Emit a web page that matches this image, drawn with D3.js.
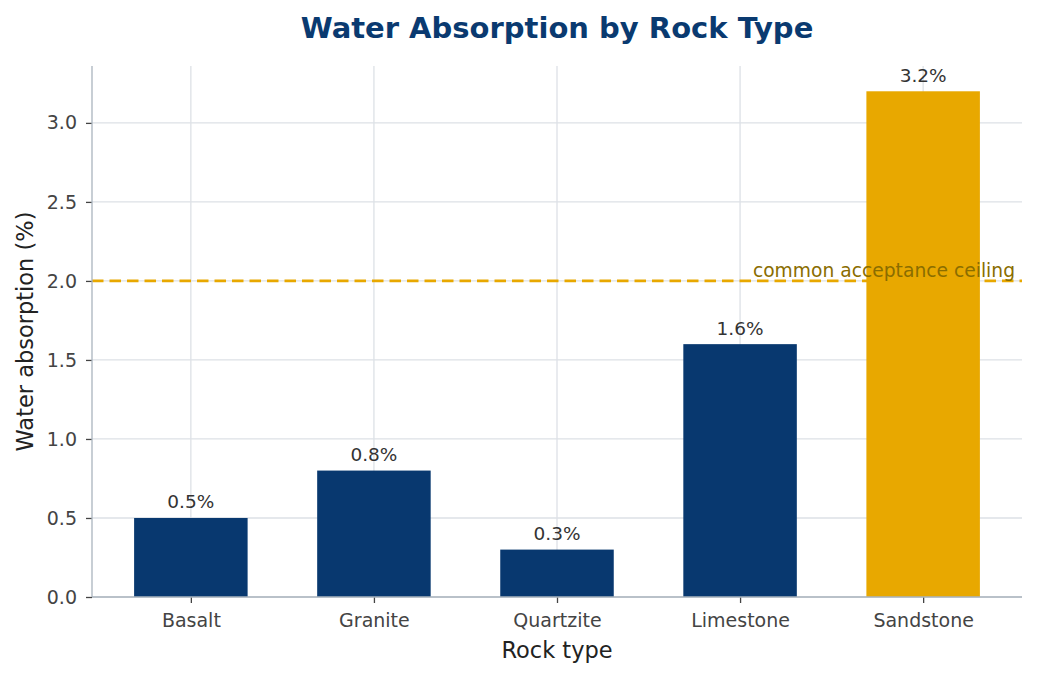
<!DOCTYPE html>
<html><head><meta charset="utf-8">
<script src="https://cdn.jsdelivr.net/npm/d3@7"></script>
<style>body{margin:0;background:#fff;} svg{display:block;font-family:"DejaVu Sans",sans-serif;}</style>
</head><body>
<svg id="c" width="1037" height="677"></svg>
<script>
const categories = ["Basalt","Granite","Quartzite","Limestone","Sandstone"];
const values = [0.5, 0.8, 0.3, 1.6, 3.2];
const labels = ["0.5%","0.8%","0.3%","1.6%","3.2%"];
const yTicks = [0.0,0.5,1.0,1.5,2.0,2.5,3.0];
const threshold = 2.0;
const thresholdLabel = "common acceptance ceiling";

const svg = d3.select("#c");
const L=92,R=1022,T=66,B=597;
const x = d3.scaleLinear().domain([-0.54, categories.length-1+0.54]).range([L,R]);
const y = d3.scaleLinear().domain([0,3.36]).range([B,T]);
const bw = x(0.62)-x(0);

// grid
svg.append("g").selectAll("line").data(yTicks).join("line")
  .attr("x1",L).attr("x2",R).attr("y1",d=>y(d)).attr("y2",d=>y(d))
  .attr("stroke","#dde1e6").attr("stroke-width",1.3);
svg.append("g").selectAll("line").data(categories).join("line")
  .attr("x1",(d,i)=>x(i)).attr("x2",(d,i)=>x(i)).attr("y1",T).attr("y2",B)
  .attr("stroke","#dde1e6").attr("stroke-width",1.3);

// bars
svg.append("g").selectAll("rect").data(values).join("rect")
  .attr("x",(d,i)=>x(i)-bw/2).attr("width",bw)
  .attr("y",d=>y(d)).attr("height",d=>B-y(d))
  .attr("fill",d=>d>threshold?"#e8a800":"#08386f");

// threshold line
svg.append("line").attr("x1",L).attr("x2",R).attr("y1",y(threshold)).attr("y2",y(threshold))
  .attr("stroke","#e8a800").attr("stroke-width",2.8).attr("stroke-dasharray","11.5,6");
svg.append("text").attr("x",1015).attr("y",y(threshold)-4).attr("text-anchor","end")
  .attr("font-size",18.7).attr("fill","#8a6d00").text(thresholdLabel);

// bar labels
svg.append("g").selectAll("text").data(values).join("text")
  .attr("x",(d,i)=>x(i)).attr("y",d=>y(d)-9.5).attr("text-anchor","middle")
  .attr("font-size",18.5).attr("fill","#333").text((d,i)=>labels[i]);

// axes
const xAxis = d3.axisBottom(x).tickValues(d3.range(categories.length)).tickFormat(i=>categories[i]).tickSize(6).tickPadding(11);
const gx = svg.append("g").attr("transform",`translate(0,${B})`).call(xAxis);
const yAxis = d3.axisLeft(y).tickValues(yTicks).tickFormat(d3.format(".1f")).tickSize(6).tickPadding(9);
const gy = svg.append("g").attr("transform",`translate(${L},0)`).call(yAxis);
[gx,gy].forEach(g=>{
  g.select(".domain").remove();
  g.selectAll(".tick line").attr("stroke","#444").attr("stroke-width",1.3);
  g.selectAll(".tick text").attr("fill","#444").attr("font-size",19).attr("font-family","DejaVu Sans");
});
svg.append("line").attr("x1",L).attr("x2",L).attr("y1",T).attr("y2",B).attr("stroke","#aab4be").attr("stroke-width",1.3);
svg.append("line").attr("x1",L).attr("x2",R).attr("y1",B).attr("y2",B).attr("stroke","#aab4be").attr("stroke-width",1.3);

// labels
svg.append("text").attr("x",(L+R)/2).attr("y",658).attr("text-anchor","middle")
  .attr("font-size",22.5).attr("fill","#222").text("Rock type");
svg.append("text").attr("transform",`translate(33,${(T+B)/2}) rotate(-90)`).attr("text-anchor","middle")
  .attr("font-size",22.5).attr("fill","#222").text("Water absorption (%)");
svg.append("text").attr("x",557).attr("y",38).attr("text-anchor","middle")
  .attr("font-size",29).attr("font-weight","bold").attr("fill","#0a3a70").text("Water Absorption by Rock Type");
</script>
</body></html>
